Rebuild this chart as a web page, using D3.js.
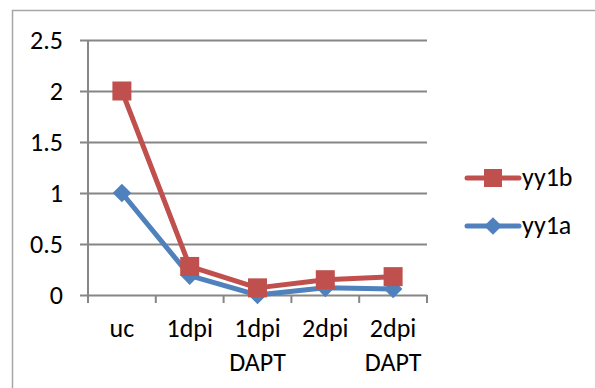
<!DOCTYPE html>
<html><head><meta charset="utf-8">
<script src="https://cdn.jsdelivr.net/npm/d3@7"></script>
<style>body{margin:0;background:#fff}svg{display:block}</style>
</head><body>
<svg id="c" width="595" height="388"></svg>
<script>
const categories = [["uc"], ["1dpi"], ["1dpi", "DAPT"], ["2dpi"], ["2dpi", "DAPT"]];
const yy1b = [2.0, 0.28, 0.07, 0.15, 0.18];
const yy1a = [1.0, 0.19, 0.0, 0.07, 0.06];
const yTicks = [0, 0.5, 1, 1.5, 2, 2.5];
const seriesNames = ["yy1b", "yy1a"];

const svg = d3.select("#c");
const font = "Carlito, Calibri, Lato, sans-serif";
const fs = 26;
const red = "#C0504D", blue = "#4F81BD", grid = "#868686";

// chart border (top/left visible)
svg.append("rect").attr("x", 12.5).attr("y", 10.5).attr("width", 620).attr("height", 420)
  .attr("fill", "none").attr("stroke", "#a6a6a6").attr("stroke-width", 1.5);

const x0 = 88, x1 = 427, yTop = 40, yBot = 295;
const idx = categories.map((d, i) => i);
const x = d3.scaleBand().domain(idx).range([x0, x1]);
const y = d3.scaleLinear().domain([0, 2.5]).range([yBot, yTop]);

// gridlines + y axis
const yAxis = d3.axisLeft(y).tickValues(yTicks).tickSize(8).tickFormat(d => String(d));
const ga = svg.append("g").attr("transform", `translate(${x0},0)`).call(yAxis);
ga.select(".domain").remove();
ga.selectAll(".tick line").attr("stroke", grid).attr("stroke-width", 2).attr("x2", x1 - x0).attr("x1", -8);
ga.selectAll(".tick text").attr("x", -25).attr("dy", "0.34em").attr("font-family", font).attr("font-size", fs).attr("fill", "#000");

// y axis line
svg.append("line").attr("x1", x0).attr("x2", x0).attr("y1", yTop).attr("y2", yBot + 8)
  .attr("stroke", grid).attr("stroke-width", 2);

// x axis ticks
const boundaries = idx.map(i => x(i)).concat([x1]);
svg.append("g").selectAll("line").data(boundaries).join("line")
  .attr("x1", d => d).attr("x2", d => d).attr("y1", yBot).attr("y2", yBot + 8)
  .attr("stroke", grid).attr("stroke-width", 2);

// x labels
const xl = svg.append("g").selectAll("text").data(categories).join("text")
  .attr("x", (d, i) => x(i) + x.bandwidth() / 2).attr("y", 337)
  .attr("text-anchor", "middle").attr("font-family", font).attr("font-size", fs).attr("fill", "#000");
xl.each(function(d) {
  const t = d3.select(this);
  d.forEach((s, k) => t.append("tspan").attr("x", t.attr("x")).attr("dy", k === 0 ? 0 : 34).text(s));
});

const cx = i => x(i) + x.bandwidth() / 2;
const line = d3.line().x((d, i) => cx(i)).y(d => y(d));

function drawSeries(vals, color, shape) {
  svg.append("path").datum(vals).attr("d", line).attr("fill", "none")
    .attr("stroke", color).attr("stroke-width", 5).attr("stroke-linejoin", "round");
  const g = svg.append("g");
  vals.forEach((v, i) => {
    if (shape === "square") {
      g.append("rect").attr("x", cx(i) - 9.5).attr("y", y(v) - 9.5).attr("width", 19).attr("height", 19)
        .attr("fill", color);
    } else {
      g.append("path").attr("d", d3.symbol(d3.symbolDiamond2, 220)())
        .attr("transform", `translate(${cx(i)},${y(v)})`).attr("fill", color);
    }
  });
}
drawSeries(yy1a, blue, "diamond");
drawSeries(yy1b, red, "square");

// legend
const legend = [{name: seriesNames[0], color: red, shape: "square", y: 178},
                {name: seriesNames[1], color: blue, shape: "diamond", y: 226}];
legend.forEach(l => {
  svg.append("line").attr("x1", 467).attr("x2", 519).attr("y1", l.y).attr("y2", l.y)
    .attr("stroke", l.color).attr("stroke-width", 5).attr("stroke-linecap", "round");
  if (l.shape === "square") {
    svg.append("rect").attr("x", 484).attr("y", l.y - 9).attr("width", 18).attr("height", 18).attr("fill", l.color);
  } else {
    svg.append("path").attr("d", d3.symbol(d3.symbolDiamond2, 200)())
      .attr("transform", `translate(493,${l.y})`).attr("fill", l.color);
  }
  svg.append("text").attr("x", 522).attr("y", l.y + 8).attr("font-family", font).attr("font-size", fs)
    .attr("fill", "#000").text(l.name);
});
</script>
</body></html>
